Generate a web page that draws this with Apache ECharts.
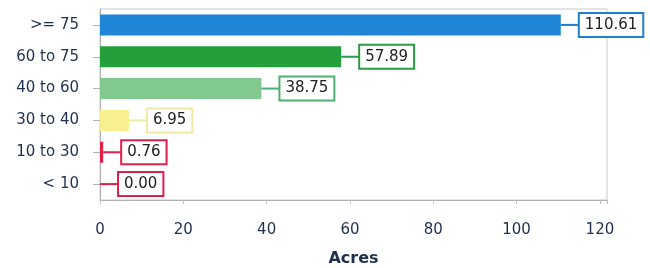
<!DOCTYPE html>
<html><head><meta charset="utf-8">
<script src="https://cdn.jsdelivr.net/npm/echarts@6/dist/echarts.min.js"></script>
<style>html,body{margin:0;padding:0;background:#fff}#c{width:650px;height:268px}</style>
</head><body><div id="c"></div>
<script>
var categories = ['>= 75', '60 to 75', '40 to 60', '30 to 40', '10 to 30', '< 10'];
var values = [110.61, 57.89, 38.75, 6.95, 0.76, 0.00];
var barColors = ['#1f86d8', '#23a03c', '#82c98f', '#f8f08e', '#e3224c', '#e3224c'];
var boxColors = ['#1f7fd0', '#2a9a44', '#4fae72', '#f2eaa0', '#e0204c', '#e0204c'];
var xTicks = [0, 20, 40, 60, 80, 100, 120];

var chart = echarts.init(document.getElementById('c'), null, {renderer: 'canvas'});
var option = {
  animation: false,
  grid: {left: 100, top: 9, right: 43, bottom: 68, outerBoundsMode: 'none', containLabel: false,
    show: true, borderColor: '#c8c8c8', borderWidth: 1, backgroundColor: '#fff'},
  xAxis: {
    type: 'value', min: 0, max: 121.7, interval: 20,
    splitLine: {show: false},
    axisLine: {show: true, lineStyle: {color: '#b0b0b0'}},
    axisTick: {show: true, length: 4, lineStyle: {color: '#c0c0c0'}},
    axisLabel: {margin: 23, color: '#1e3050', fontFamily: 'DejaVu Sans', fontSize: 15,
      formatter: function (v) { return xTicks.indexOf(v) >= 0 ? String(v) : ''; }},
    name: 'Acres', nameLocation: 'middle', nameGap: 51,
    nameTextStyle: {color: '#1e3050', fontFamily: 'DejaVu Sans', fontSize: 16, fontWeight: 'bold'}
  },
  yAxis: {
    type: 'category', data: categories, inverse: true,
    axisLine: {show: true, lineStyle: {color: '#b0b0b0'}},
    axisTick: {show: true, alignWithLabel: true, length: 7, lineStyle: {color: '#b0b0b0'}},
    axisLabel: {margin: 21, color: '#1e3050', fontFamily: 'DejaVu Sans', fontSize: 15}
  },
  series: [{
    type: 'bar',
    data: values.map(function (v, i) { return {value: v, itemStyle: {color: barColors[i]}}; }),
    barCategoryGap: '34%'
  }, {
    type: 'custom',
    data: values.map(function (v, i) { return [v, i]; }),
    encode: {x: 0, y: 1},
    z: 5,
    renderItem: function (params, api) {
      var i = params.dataIndex;
      var p = api.coord([api.value(0), api.value(1)]);
      var x0 = p[0], y = p[1];
      if (api.value(0) > 0 && x0 - api.coord([0, 0])[0] < 3) x0 = api.coord([0, 0])[0] + 3;
      var gap = 19;
      return {
        type: 'group',
        children: [{
          type: 'line',
          shape: {x1: x0, y1: y, x2: x0 + gap, y2: y},
          style: {stroke: boxColors[i], lineWidth: 2}
        }, {
          type: 'text',
          x: x0 + gap, y: y,
          style: {
            text: api.value(0).toFixed(2),
            fill: '#222',
            font: '15px "DejaVu Sans"',
            align: 'left', verticalAlign: 'middle',
            backgroundColor: '#fff',
            borderColor: boxColors[i], borderWidth: 2,
            padding: [4, 5, 3, 5]
          }
        }]
      };
    }
  }]
};
chart.setOption(option);
</script>
</body></html>
